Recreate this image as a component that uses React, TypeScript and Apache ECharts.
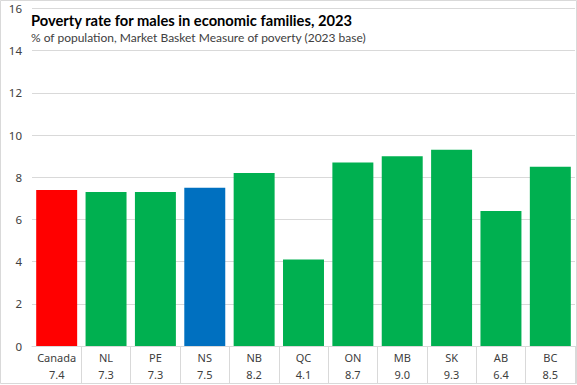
import React, { useEffect, useRef } from "react";
import * as echarts from "echarts";

const categories = ["Canada", "NL", "PE", "NS", "NB", "QC", "ON", "MB", "SK", "AB", "BC"];
const values = [7.4, 7.3, 7.3, 7.5, 8.2, 4.1, 8.7, 9.0, 9.3, 6.4, 8.5];
const barColors = ["#FF0000", "#00B050", "#00B050", "#0070C0", "#00B050", "#00B050", "#00B050", "#00B050", "#00B050", "#00B050", "#00B050"];
const yTicks = { min: 0, max: 16, interval: 2 };

const FONT = "'Noto Sans', 'Open Sans', sans-serif";
const TITLE_FONT = "Lato, 'Noto Sans', sans-serif";

export default function App() {
  const ref = useRef<HTMLDivElement>(null);
  useEffect(() => {
    if (!ref.current) return;
    const chart = echarts.init(ref.current, null, { renderer: "svg" });
    chart.setOption({
      animation: false,
      backgroundColor: "#ffffff",
      textStyle: { fontFamily: FONT },
      title: {
        text: "Poverty rate for males in economic families, 2023",
        subtext: "% of population, Market Basket Measure of poverty (2023 base)",
        left: 26,
        top: 7,
        itemGap: 4,
        textStyle: { fontFamily: TITLE_FONT, fontSize: 14.7, fontWeight: "bold", color: "#000000" },
        subtextStyle: { fontFamily: TITLE_FONT, fontSize: 12, color: "#404040" },
      },
      grid: { left: 32, right: 2, top: 8.5, bottom: 39, containLabel: false },
      xAxis: {
        type: "category",
        data: categories,
        axisLine: { lineStyle: { color: "#d9d9d9", width: 1 } },
        axisTick: {
          show: true,
          length: 37,
          interval: (i: number) => i !== 0,
          lineStyle: { color: "#d9d9d9", width: 1 },
        },
        axisLabel: {
          interval: 0,
          margin: 3,
          lineHeight: 17,
          fontSize: 11,
          color: "#404040",
          fontFamily: FONT,
          formatter: (v: string, i: number) => `${v}\n${values[i].toFixed(1)}`,
        },
      },
      yAxis: {
        type: "value",
        min: yTicks.min,
        max: yTicks.max,
        interval: yTicks.interval,
        axisLine: { show: false },
        axisTick: { show: false },
        splitLine: { lineStyle: { color: "#d9d9d9", width: 1 } },
        axisLabel: { fontSize: 11.5, color: "#404040", margin: 10, fontFamily: FONT },
      },
      series: [
        {
          type: "bar",
          data: values.map((v, i) => ({ value: v, itemStyle: { color: barColors[i] } })),
          barCategoryGap: "17%",
        },
      ],
      graphic: [
        {
          type: "rect",
          shape: { x: 0.5, y: 0.5, width: 576, height: 383 },
          style: { fill: "none", stroke: "#d9d9d9", lineWidth: 1 },
          silent: true,
        },
      ],
    });
    return () => chart.dispose();
  }, []);
  return (
    <div
      ref={ref}
      style={{ position: "absolute", left: 0, top: 0, width: 577, height: 385 }}
    />
  );
}
